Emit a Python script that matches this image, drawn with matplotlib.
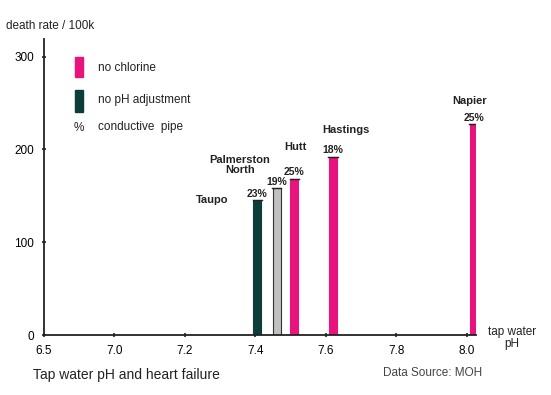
import numpy as np
import matplotlib.pyplot as plt

# data
cities = ['Taupo', 'Palmerston\nNorth', 'Hutt', 'Hastings', 'Napier']
ph = [7.405, 7.46, 7.51, 7.62, 8.02]
death_rate = [145, 158, 168, 192, 227]
pipe_pct = ['23%', '19%', '25%', '18%', '25%']
bar_colors = ['#0d3d38', '#c0c0c0', '#e8137d', '#e8137d', '#e8137d']
edge_colors = ['#0d3d38', '#333333', '#e8137d', '#e8137d', '#e8137d']
ph_ticks = [6.5, 7.0, 7.2, 7.4, 7.6, 7.8, 8.0]
y_ticks = [0, 100, 200, 300]

# where the city names sit (pH, death rate)
name_x = [7.277, 7.356, 7.512, 7.657, 8.008]
name_y = [146, 183, 203, 221, 252]

# broken pH axis: 6.5 -> 7.0 takes the same room as 0.2 steps
tick_pos = np.arange(len(ph_ticks))
def fwd(v):
    v = np.asarray(v)
    return np.interp(v, ph_ticks, tick_pos) + np.where(v > 8.0, (v - 8.0) / 0.2, 0)
def inv(p):
    p = np.asarray(p)
    return np.interp(p, tick_pos, ph_ticks) + np.where(p > 6, (p - 6) * 0.2, 0)

plt.rcParams['font.family'] = ['Liberation Sans', 'DejaVu Sans']
fig = plt.figure(figsize=(5.51, 3.95), dpi=100)
ax = fig.add_axes([44/551, 60/395, (476-44)/551, (335-39)/395])
ax.set_xscale('function', functions=(fwd, inv))

ax.bar(ph, death_rate, width=0.022, color=bar_colors, edgecolor=edge_colors,
       linewidth=0.8, zorder=2)
# dark cap on each bar
for x, y in zip(ph, death_rate):
    ax.plot([x - 0.013, x + 0.013], [y, y], color='#222222', lw=1, zorder=3)

ax.set_xlim(6.5, 8.0 + 0.2 * (476 - 467) / 70.5)
ax.set_ylim(0, 319)
ax.set_xticks(ph_ticks)
ax.set_xticklabels([f'{t:.1f}' for t in ph_ticks], fontsize=8.5)
ax.set_yticks(y_ticks)
ax.set_yticklabels([str(t) for t in y_ticks], fontsize=8.5)
ax.tick_params(length=2.5, width=1.2, direction='inout', color='#222222', pad=6)
for s in ['top', 'right']:
    ax.spines[s].set_visible(False)
for s in ['left', 'bottom']:
    ax.spines[s].set_linewidth(1.3)
    ax.spines[s].set_color('#222222')

# percentages and city names
for x, y, p in zip(ph, death_rate, pipe_pct):
    ax.text(x, y + 2, p, ha='center', va='bottom', fontsize=7.5, fontweight='bold',
            color='#222222')
for x, y, c in zip(name_x, name_y, cities):
    ax.text(x, y, c, ha='center', va='center', fontsize=8, fontweight='bold',
            color='#222222', linespacing=1.0)

# legend drawn by hand
fig.patches.append(plt.Rectangle((75/551, 1 - 77/395), 8/551, 20/395,
                                 transform=fig.transFigure, color='#e8137d'))
fig.patches.append(plt.Rectangle((75/551, 1 - 112/395), 8/551, 22/395,
                                 transform=fig.transFigure, color='#0d3d38'))
fig.text(98/551, 1 - 68/395, 'no chlorine', fontsize=8.5, va='center', color='#222222')
fig.text(98/551, 1 - 100/395, 'no pH adjustment', fontsize=8.5, va='center', color='#222222')
fig.text(74/551, 1 - 128/395, '%', fontsize=8.5, va='center', color='#222222')
fig.text(98/551, 1 - 127/395, 'conductive  pipe', fontsize=8.5, va='center', color='#222222')

fig.text(6/551, 1 - 26/395, 'death rate / 100k', fontsize=8.5, va='center', color='#222222')
fig.text(512/551, 1 - 338/395, 'tap water\npH', fontsize=8.5, ha='center', va='center',
         color='#222222', linespacing=0.95)
fig.text(33/551, 1 - 375/395, 'Tap water pH and heart failure', fontsize=10,
         va='center', color='#222222')
fig.text(383/551, 1 - 373/395, 'Data Source: MOH', fontsize=8.5, va='center',
         color='#444444')

fig.savefig('out.png', dpi=100)
